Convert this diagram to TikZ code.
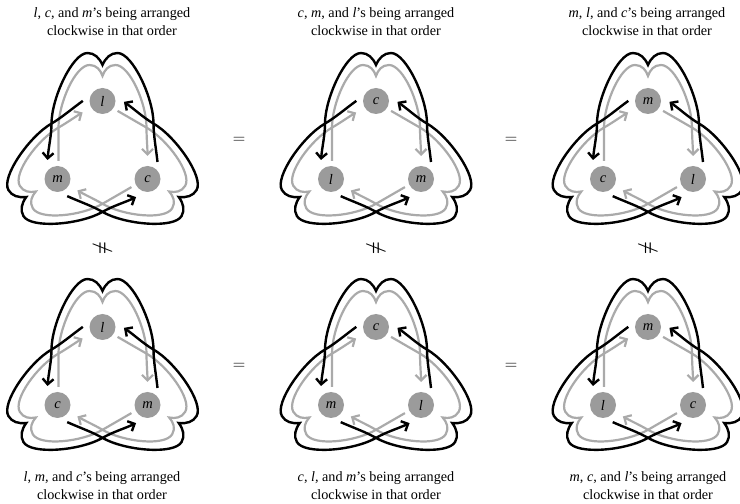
\documentclass[tikz,border=0pt]{standalone}
\usepackage{fontspec}
\setmainfont{Liberation Serif}
\usetikzlibrary{arrows.meta}
\definecolor{lineg}{RGB}{170,170,170}
\definecolor{nodeg}{RGB}{155,155,155}
\tikzset{
 blk/.style={draw=black, line width=2.4pt, -{Straight Barb[length=5.5pt,width=11pt]}},
 gry/.style={draw=lineg, line width=2.2pt, -{Straight Barb[length=5.5pt,width=11pt]}},
 dot/.style={circle, fill=nodeg, minimum size=26pt, inner sep=0pt, font=\fontsize{14.5}{14.5}\selectfont\itshape},
 capt/.style={anchor=base, inner sep=0pt, font=\fontsize{14.2}{18}\selectfont},
 relsym/.style={inner sep=0pt, font=\fontsize{17}{17}\selectfont},
 nesym/.style={inner sep=0pt, font=\fontsize{13.5}{13.5}\selectfont},
}
\newcommand\graylobe{%
 \draw[gry] (-44,-8) .. controls (-44,5) and (-44,15) .. (-44,25.4)
  .. controls (-44,50) and (-27,88) .. (-13,88)
  .. controls (-6,88) and (-2,83) .. (0,77)
  .. controls (2,83) and (6,88) .. (13,88)
  .. controls (27,88) and (44,50) .. (44,25.4)
  .. controls (44,15) and (45,5) .. (45,-3);}
\newcommand\blacklobe{%
 \draw[blk] (55,-9) .. controls (53.5,5) and (51,18) .. (51,29.4)
  .. controls (51,55) and (30,100) .. (15,100)
  .. controls (8,100) and (3,95) .. (0,88)
  .. controls (-3,95) and (-8,100) .. (-15,100)
  .. controls (-30,100) and (-51,55) .. (-51,29.4)
  .. controls (-51,18) and (-54,5) .. (-55,-7);}
\newcommand\knotdiag[6]{%
 \begin{scope}[shift={(#2,#3)}]
  \begin{scope}[rotate=0]\graylobe\end{scope}
  \begin{scope}[rotate=120]\graylobe\end{scope}
  \begin{scope}[rotate=240]\graylobe\end{scope}
  \begin{scope}[rotate=0]\blacklobe\end{scope}
  \begin{scope}[rotate=120]\blacklobe\end{scope}
  \begin{scope}[rotate=240]\blacklobe\end{scope}
  \node[dot] (#1t) at (0,52) {#4};
  \node[dot] (#1l) at (-45,-26) {#5};
  \node[dot] (#1r) at (45,-26) {#6};
 \end{scope}}
\newcommand\vneq{\rotatebox{90}{\scalebox{1}[1.5]{\boldmath$\neq$}}}
\begin{document}
\begin{tikzpicture}[x=1pt,y=1pt]
\useasboundingbox (0,0) rectangle (740,504);
\fill[white] (0,0) rectangle (740,504);
\knotdiag{a}{102.5}{351}{l}{m}{c}
\knotdiag{b}{376}{351}{c}{l}{m}
\knotdiag{c}{648}{351}{m}{c}{l}
\knotdiag{d}{102.5}{125}{l}{c}{m}
\knotdiag{e}{376}{125}{c}{m}{l}
\knotdiag{f}{648}{125}{m}{l}{c}
% relation symbols
\node[relsym] (eq1) at (239,364) {$=$};
\node[relsym] (eq2) at (511,364) {$=$};
\node[relsym] (eq3) at (239,138) {$=$};
\node[relsym] (eq4) at (511,138) {$=$};
\node[nesym] (ne1) at (102.5,256) {\vneq};
\node[nesym] (ne2) at (376,256) {\vneq};
\node[nesym] (ne3) at (648,256) {\vneq};
% captions
\node[capt] (t1a) at (112,486) {\textit{l}, \textit{c}, and \textit{m}’s being arranged};
\node[capt] (t1b) at (112,468) {clockwise in that order};
\node[capt] (t2a) at (376,486) {\textit{c}, \textit{m}, and \textit{l}’s being arranged};
\node[capt] (t2b) at (376,468) {clockwise in that order};
\node[capt] (t3a) at (647,486) {\textit{m}, \textit{l}, and \textit{c}’s being arranged};
\node[capt] (t3b) at (647,468) {clockwise in that order};
\node[capt] (b1a) at (102,23) {\textit{l}, \textit{m}, and \textit{c}’s being arranged};
\node[capt] (b1b) at (102,5) {clockwise in that order};
\node[capt] (b2a) at (376,23) {\textit{c}, \textit{l}, and \textit{m}’s being arranged};
\node[capt] (b2b) at (376,5) {clockwise in that order};
\node[capt] (b3a) at (648,23) {\textit{m}, \textit{c}, and \textit{l}’s being arranged};
\node[capt] (b3b) at (648,5) {clockwise in that order};
\end{tikzpicture}
\end{document}
